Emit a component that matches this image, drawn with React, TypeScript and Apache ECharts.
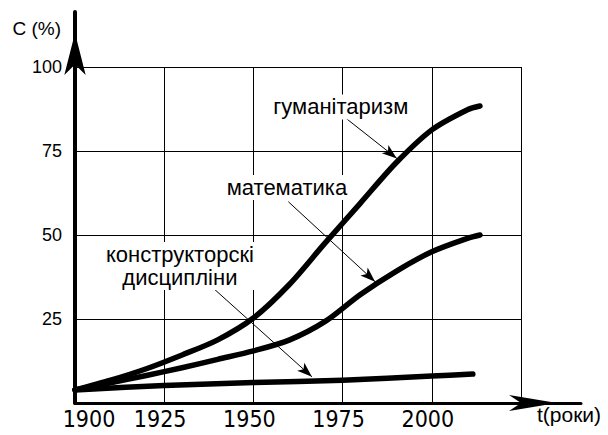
import React, { useEffect, useRef } from "react";
import * as echarts from "echarts";

// ---- data ----
const xTicks = [1900, 1925, 1950, 1975, 2000, 2025];
const yTicks = [0, 25, 50, 75, 100];

const humName = "гуманітаризм";
const humYears = [1900, 1910, 1920, 1930, 1940, 1950, 1960, 1970, 1980, 1990, 2000, 2010, 2013.5];
const humValues = [3.9, 6.8, 10.2, 14.3, 18.8, 25.3, 35.2, 47.5, 59.5, 71.5, 81.3, 87.3, 88.4];

const mathName = "математика";
const mathYears = [1900, 1910, 1920, 1930, 1940, 1950, 1960, 1970, 1980, 1990, 2000, 2010, 2013.5];
const mathValues = [3.9, 6.0, 8.2, 10.5, 13.0, 15.5, 18.7, 24.2, 32.3, 39.2, 45.0, 49.0, 50.0];

const engName = "конструкторскі\nдисципліни";
const engYears = [1900, 1925, 1950, 1975, 2000, 2011.5];
const engValues = [3.9, 5.2, 6.1, 6.8, 8.0, 8.6];

// annotation anchors (data coordinates)
const humLabelAt = [1974.5, 88.1];
const humArrow = [[1974.8, 85.7], [1990.2, 72.8]];
const mathLabelAt = [1959.4, 64.1];
const mathArrow = [[1959.8, 59.9], [1984.1, 36.1]];
const engLabelAt = [1929.4, 40.8];
const engArrow = [[1938.3, 34.6], [1966.4, 7.8]];

const yName = "C (%)";
const xName = "t(роки)";

const SANS = "'Liberation Sans', Arial, sans-serif";
const NARROW = "'Liberation Sans Narrow', 'Arial Narrow', 'DejaVu Sans Condensed', sans-serif";

function pairs(xs: number[], ys: number[]) {
  return xs.map((x, i) => [x, ys[i]]);
}

function annotated(name: string, xs: number[], ys: number[], labelAt: number[], arrow: number[][]) {
  return {
    type: "line",
    name,
    xAxisIndex: 0,
    yAxisIndex: 0,
    data: pairs(xs, ys),
    smooth: 0.3,
    showSymbol: false,
    symbol: "none",
    lineStyle: { color: "#000", width: 5.5, cap: "round", join: "round" },
    markLine: {
      silent: true,
      symbol: ["none", "arrow"],
      symbolSize: [8, 15],
      lineStyle: { color: "#000", width: 1, type: "solid" },
      label: { show: false },
      data: [[{ coord: arrow[0] }, { coord: arrow[1] }]],
    },
    markPoint: {
      silent: true,
      symbol: "rect",
      symbolSize: 1,
      itemStyle: { color: "rgba(0,0,0,0)" },
      label: {
        show: true,
        position: "inside",
        formatter: name,
        color: "#000",
        fontSize: 22,
        lineHeight: 23,
        fontFamily: SANS,
        backgroundColor: "#fff",
        padding: [1, 2],
        align: "center",
      },
      data: [{ coord: labelAt, value: 0 }],
    },
  };
}

export default function App() {
  const ref = useRef<HTMLDivElement>(null);
  useEffect(() => {
    if (!ref.current) return;
    const chart = echarts.init(ref.current, null, { renderer: "svg" });
    chart.setOption({
      animation: false,
      backgroundColor: "#fff",
      grid: [
        { left: 75, right: 87, top: 67, bottom: 32 },
        { left: 75, right: 27, top: 12, bottom: 32 },
      ],
      xAxis: [
        {
          gridIndex: 0,
          type: "value",
          min: xTicks[0],
          max: xTicks[xTicks.length - 1],
          interval: 25,
          axisLine: { show: false },
          axisTick: { show: false },
          splitLine: { show: true, lineStyle: { color: "#000", width: 1 } },
          axisLabel: {
            show: true,
            margin: 4,
            showMaxLabel: false,
            formatter: (v: number) => (v === xTicks[0] ? `{a|${v}}` : `{b|${v}}`),
            rich: {
              a: { fontFamily: NARROW, fontSize: 23, color: "#000", padding: [0, 0, 0, 28] },
              b: { fontFamily: NARROW, fontSize: 23, color: "#000", padding: [0, 8, 0, 0] },
            },
          },
        },
        {
          gridIndex: 1,
          type: "value",
          min: 0,
          max: 1,
          axisLabel: { show: false },
          axisTick: { show: false },
          splitLine: { show: false },
          axisLine: {
            show: true,
            onZero: false,
            symbol: ["none", "arrow"],
            symbolSize: [12, 48],
            symbolOffset: [0, -24],
            lineStyle: { color: "#000", width: 3 },
          },
          name: xName,
          nameLocation: "end",
          nameGap: -44,
          nameTextStyle: {
            fontFamily: SANS,
            fontSize: 21,
            color: "#000",
            align: "left",
            verticalAlign: "top",
            padding: [1, 0, 0, 0],
          },
        },
      ],
      yAxis: [
        {
          gridIndex: 0,
          type: "value",
          min: yTicks[0],
          max: yTicks[yTicks.length - 1],
          interval: 25,
          axisLine: { show: false },
          axisTick: { show: false },
          splitLine: { show: true, lineStyle: { color: "#000", width: 1 } },
          axisLabel: {
            show: true,
            margin: 13,
            showMinLabel: false,
            fontFamily: SANS,
            fontSize: 18,
            color: "#000",
          },
        },
        {
          gridIndex: 1,
          type: "value",
          min: 0,
          max: 1,
          axisLabel: { show: false },
          axisTick: { show: false },
          splitLine: { show: false },
          axisLine: {
            show: true,
            onZero: false,
            symbol: ["none", "arrow"],
            symbolSize: [16, 42],
            symbolOffset: [0, -21],
            lineStyle: { color: "#000", width: 4 },
          },
          name: yName,
          nameLocation: "end",
          nameGap: -16,
          nameTextStyle: {
            fontFamily: SANS,
            fontSize: 19,
            color: "#000",
            align: "right",
            verticalAlign: "middle",
            padding: [0, 14, 0, 0],
          },
        },
      ],
      series: [
        annotated(humName, humYears, humValues, humLabelAt, humArrow),
        annotated(mathName, mathYears, mathValues, mathLabelAt, mathArrow),
        annotated(engName, engYears, engValues, engLabelAt, engArrow),
      ],
    });
    return () => chart.dispose();
  }, []);
  return (
    <div
      ref={ref}
      style={{ position: "fixed", left: 0, top: 0, width: 608, height: 435 }}
    />
  );
}
